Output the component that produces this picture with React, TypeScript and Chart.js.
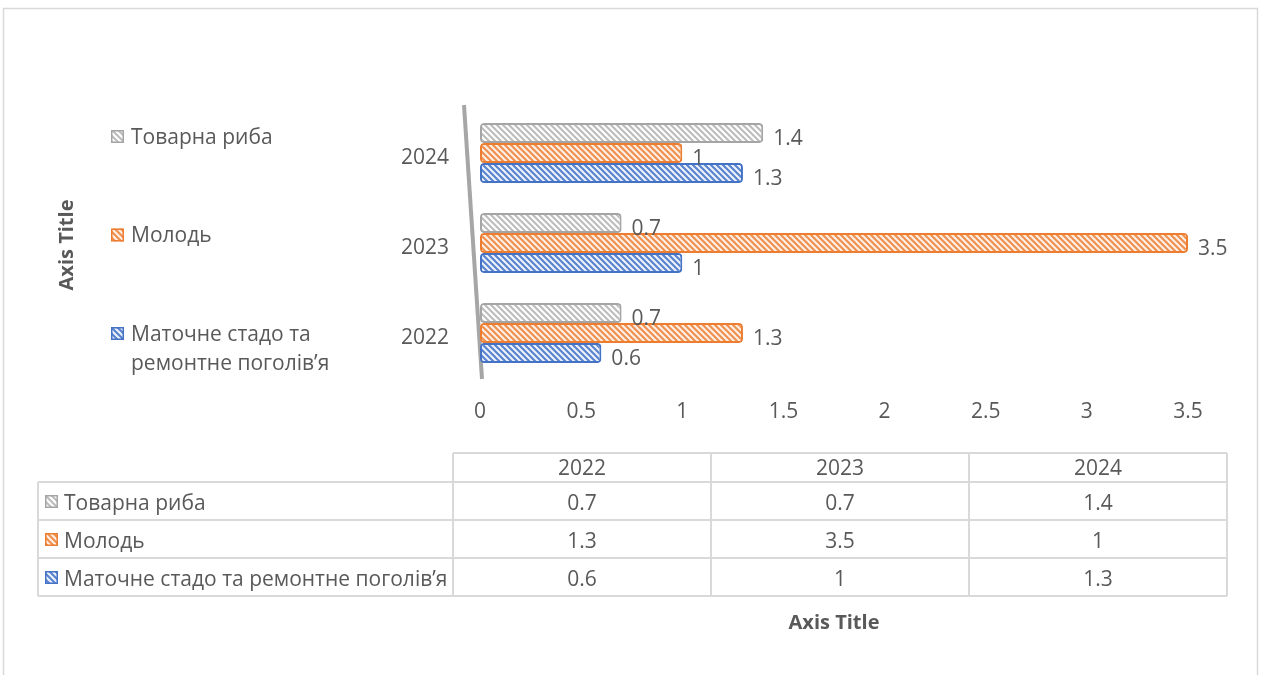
import React, { useEffect, useRef } from 'react';
import { Chart, registerables } from 'chart.js';

Chart.register(...registerables);

const categories = ['2022', '2023', '2024'];
const seriesNames = ['Товарна риба', 'Молодь', 'Маточне стадо та ремонтне поголів’я'];
const tovarnaRyba = [0.7, 0.7, 1.4];
const molod = [1.3, 3.5, 1];
const matochne = [0.6, 1, 1.3];
const xTickValues = [0, 0.5, 1, 1.5, 2, 2.5, 3, 3.5];
const axisTitle = 'Axis Title';

const seriesColors = ['#A5A5A5', '#ED7D31', '#4472C4'];
const stripeColors = ['#BDBDBD', '#F0904F', '#5A84CE'];
const tintColors = ['#FFFFFF', '#FDF0E7', '#EEF3FB'];

const FONT = "'Open Sans', 'Noto Sans', sans-serif";
const TEXT = '#595959';
const GRID = '#D9D9D9';

function makePattern(stripe: string, tint: string): CanvasPattern | string {
  const p = 6;
  const c = document.createElement('canvas');
  c.width = p;
  c.height = p;
  const g = c.getContext('2d');
  if (!g) return stripe;
  g.fillStyle = tint;
  g.fillRect(0, 0, p, p);
  g.strokeStyle = stripe;
  g.lineWidth = 2.2;
  g.beginPath();
  g.moveTo(0, 0);
  g.lineTo(p, p);
  g.moveTo(-p / 2, p / 2);
  g.lineTo(p / 2, p * 1.5);
  g.moveTo(p / 2, -p / 2);
  g.lineTo(p * 1.5, p / 2);
  g.stroke();
  const pat = g.createPattern(c, 'repeat');
  return pat || stripe;
}

function wrapText(ctx: CanvasRenderingContext2D, text: string, maxW: number): string[] {
  const words = text.split(' ');
  const lines: string[] = [];
  let cur = '';
  for (const w of words) {
    const t = cur ? cur + ' ' + w : w;
    if (ctx.measureText(t).width > maxW && cur) {
      lines.push(cur);
      cur = w;
    } else cur = t;
  }
  if (cur) lines.push(cur);
  return lines;
}

function drawMarker(ctx: CanvasRenderingContext2D, x: number, y: number, s: number, fill: any, border: string) {
  ctx.save();
  ctx.fillStyle = fill;
  ctx.fillRect(x, y, s, s);
  ctx.strokeStyle = border;
  ctx.lineWidth = 1.5;
  ctx.strokeRect(x + 0.75, y + 0.75, s - 1.5, s - 1.5);
  ctx.restore();
}

const decorPlugin = {
  id: 'decor',
  beforeDraw(chart: any) {
    const ctx = chart.ctx as CanvasRenderingContext2D;
    ctx.save();
    ctx.fillStyle = '#fff';
    ctx.fillRect(0, 0, chart.width, chart.height);
    ctx.strokeStyle = GRID;
    ctx.lineWidth = 1.5;
    ctx.strokeRect(3.5, 8.5, chart.width - 7, chart.height + 20);
    ctx.restore();
  },
  beforeDatasetsDraw(chart: any) {
    const ctx = chart.ctx as CanvasRenderingContext2D;
    const { top, bottom } = chart.chartArea;
    const x0 = chart.scales.x.getPixelForValue(0);
    ctx.save();
    ctx.strokeStyle = '#A6A6A6';
    ctx.lineWidth = 4;
    ctx.beginPath();
    ctx.moveTo(x0 - 16, top - 3);
    ctx.lineTo(x0 + 2, bottom + 1);
    ctx.stroke();
    ctx.restore();
  },
  afterDatasetsDraw(chart: any) {
    const ctx = chart.ctx as CanvasRenderingContext2D;
    ctx.save();
    ctx.font = `21px ${FONT}`;
    ctx.fillStyle = TEXT;
    ctx.textAlign = 'left';
    ctx.textBaseline = 'middle';
    chart.data.datasets.forEach((ds: any, di: number) => {
      const meta = chart.getDatasetMeta(di);
      meta.data.forEach((el: any, i: number) => {
        ctx.fillText(String(ds.data[i]), el.x + 10, el.y + 6);
      });
    });
    ctx.restore();
  },
  afterDraw(chart: any) {
    const ctx = chart.ctx as CanvasRenderingContext2D;
    const area = chart.chartArea;
    const datasets = chart.data.datasets;
    const labels: string[] = chart.data.labels;
    ctx.save();

    // Legend (left side)
    ctx.font = `21px ${FONT}`;
    ctx.fillStyle = TEXT;
    ctx.textAlign = 'left';
    ctx.textBaseline = 'middle';
    const legTop = area.top + 28;
    const legStep = 98.5;
    datasets.forEach((ds: any, i: number) => {
      const y = legTop + i * legStep;
      drawMarker(ctx, 111, y - 6, 13, ds.backgroundColor, ds.borderColor);
      ctx.fillStyle = TEXT;
      const lines = wrapText(ctx, ds.label, 250);
      lines.forEach((ln, k) => ctx.fillText(ln, 131, y + 2 + k * 29));
    });

    // Y axis title
    ctx.save();
    ctx.font = `bold 20px ${FONT}`;
    ctx.fillStyle = TEXT;
    ctx.textAlign = 'center';
    ctx.textBaseline = 'middle';
    ctx.translate(67, (area.top + area.bottom) / 2 + 2);
    ctx.rotate(-Math.PI / 2);
    ctx.fillText(axisTitle, 0, 0);
    ctx.restore();

    // Data table
    const tLeft = 38;
    const cLeft = 453;
    const tRight = 1227;
    const hTop = 453;
    const hBottom = 482;
    const rowH = 38;
    const colW = (tRight - cLeft) / labels.length;
    const nRows = datasets.length;
    const tBottom = hBottom + nRows * rowH;

    ctx.strokeStyle = GRID;
    ctx.lineWidth = 2;
    ctx.beginPath();
    ctx.moveTo(cLeft, hTop);
    ctx.lineTo(tRight, hTop);
    for (let r = 0; r <= nRows; r++) {
      const y = hBottom + r * rowH;
      ctx.moveTo(tLeft, y);
      ctx.lineTo(tRight, y);
    }
    ctx.moveTo(tLeft, hBottom);
    ctx.lineTo(tLeft, tBottom);
    for (let c = 0; c <= labels.length; c++) {
      const x = cLeft + c * colW;
      ctx.moveTo(x, hTop);
      ctx.lineTo(x, tBottom);
    }
    ctx.stroke();

    ctx.font = `21px ${FONT}`;
    ctx.fillStyle = TEXT;
    ctx.textBaseline = 'middle';
    ctx.textAlign = 'center';
    labels.forEach((lab, c) => {
      ctx.fillText(lab, cLeft + c * colW + colW / 2, (hTop + hBottom) / 2 + 2);
    });
    datasets.forEach((ds: any, r: number) => {
      const yc = hBottom + r * rowH + rowH / 2;
      drawMarker(ctx, 45, yc - 6, 13, ds.backgroundColor, ds.borderColor);
      ctx.fillStyle = TEXT;
      ctx.textAlign = 'left';
      ctx.fillText(ds.label, 64, yc + 3);
      ctx.textAlign = 'center';
      ds.data.forEach((v: number, c: number) => {
        ctx.fillText(String(v), cLeft + c * colW + colW / 2, yc + 3);
      });
    });

    // X axis title
    ctx.font = `bold 20px ${FONT}`;
    ctx.textAlign = 'center';
    ctx.fillText(axisTitle, (area.left + area.right) / 2, 623);

    ctx.restore();
  },
};

export default function App() {
  const ref = useRef<HTMLCanvasElement | null>(null);

  useEffect(() => {
    if (!ref.current) return;
    const values = [tovarnaRyba, molod, matochne];
    const datasets = seriesNames.map((name, i) => ({
      label: name,
      data: values[i],
      backgroundColor: makePattern(stripeColors[i], tintColors[i]),
      borderColor: seriesColors[i],
      borderWidth: 2,
      borderRadius: 4,
      borderSkipped: false,
      categoryPercentage: 0.665,
      barPercentage: 1,
    }));
    const chart = new Chart(ref.current, {
      type: 'bar',
      data: { labels: categories, datasets: datasets as any },
      options: {
        animation: false,
        responsive: false,
        indexAxis: 'y',
        layout: { padding: { left: 0, right: 73, top: 108, bottom: 0 } },
        plugins: {
          legend: { display: false },
          tooltip: { enabled: false },
        },
        scales: {
          x: {
            type: 'linear',
            min: 0,
            max: 3.5,
            afterBuildTicks: (s: any) => {
              s.ticks = xTickValues.map((v) => ({ value: v }));
            },
            afterFit: (s: any) => {
              s.height = 297;
            },
            grid: { display: false, drawTicks: false },
            border: { display: false },
            ticks: {
              padding: 21,
              color: TEXT,
              font: { family: FONT, size: 21 },
              maxRotation: 0,
              autoSkip: false,
              callback: (v: any) => String(v),
            },
          },
          y: {
            reverse: true,
            afterFit: (s: any) => {
              s.width = 480;
            },
            grid: { display: false, drawTicks: false },
            border: { display: false },
            ticks: {
              padding: 31,
              labelOffset: 5,
              color: TEXT,
              font: { family: FONT, size: 21 },
            },
          },
        },
      },
      plugins: [decorPlugin],
    });
    return () => chart.destroy();
  }, []);

  return (
    <div style={{ position: 'absolute', left: 0, top: 0, width: 1261, height: 675, background: '#fff' }}>
      <canvas ref={ref} width={1261} height={675} style={{ display: 'block' }} />
    </div>
  );
}
